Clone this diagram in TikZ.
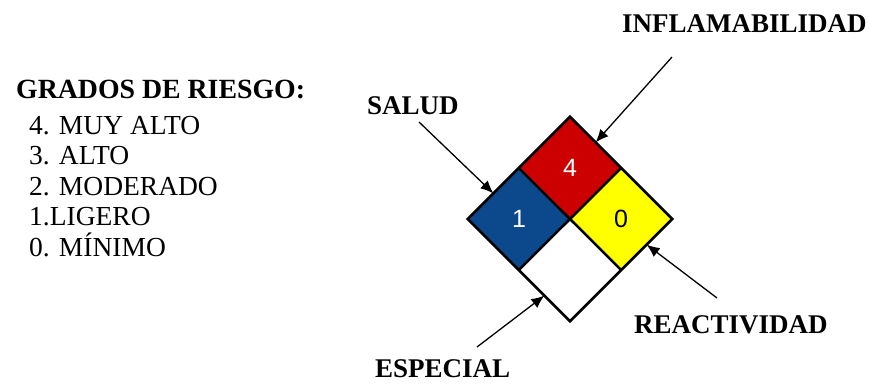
\documentclass[tikz,border=0pt]{standalone}
\usepackage{fontspec}
\setmainfont{Liberation Serif}
\newfontfamily\numfont{Liberation Sans}
\usetikzlibrary{shapes.geometric,arrows.meta}
\definecolor{rojo}{RGB}{204,0,0}
\definecolor{azul}{RGB}{12,72,140}
\definecolor{amarillo}{RGB}{255,255,0}

\begin{document}
\begin{tikzpicture}[x=1pt,y=-1pt,
  rombo/.style={shape=diamond,minimum width=102pt,minimum height=102pt,inner sep=0pt,font=\numfont\fontsize{25}{25}\selectfont},
  rotulo/.style={anchor=base west,inner sep=0pt,font=\bfseries\fontsize{27}{27}\selectfont},
  grado/.style={anchor=base west,inner sep=0pt,font=\fontsize{27.5}{27.5}\selectfont},
  flecha/.style={line width=1.3pt,-{Latex[length=13pt,width=11pt]}}]

\useasboundingbox (0,0) rectangle (870,383);

% leyenda
\node[rotulo,font=\bfseries\fontsize{27.8}{27.8}\selectfont] (grados) at (16,98.3) {GRADOS DE RIESGO:};
\foreach \txt [count=\i] in {4. MUY ALTO,3. ALTO,2. MODERADO,1.LIGERO,0. MÍNIMO}
  \node[grado] (g\i) at (29,{134+30.5*(\i-1)}) {\txt};

% rombo
\node[rombo,fill=rojo,text=white] (rojo) at (570,168) {4};
\node[rombo,fill=azul,text=white] (azul) at (519,219) {1};
\node[rombo,fill=amarillo] (amarillo) at (621,219) {0};
\node[rombo,fill=white] (blanco) at (570,270) {};

\draw[black, line width=2.7pt, line join=miter] (rojo.north) -- (amarillo.east) -- (blanco.south) -- (azul.west) -- cycle;
\draw[black, line width=2.5pt] (rojo.west) -- (blanco.east);
\draw[black, line width=2.5pt] (rojo.east) -- (blanco.west);

% rotulos
\node[rotulo] (inflam) at (622,32) {INFLAMABILIDAD};
\node[rotulo] (salud) at (367,114) {SALUD};
\node[rotulo] (reactiv) at (634,333) {REACTIVIDAD};
\node[rotulo] (especial) at (375,377) {ESPECIAL};

\coordinate (cInflam) at (672,57);
\coordinate (cSalud) at (419,122);
\coordinate (cReactiv) at (717,298);
\coordinate (cEspecial) at (477,347);

\draw[flecha] (cInflam) -- (rojo.north east);
\draw[flecha] (cSalud) -- (azul.north west);
\draw[flecha] (cReactiv) -- (amarillo.south east);
\draw[flecha] (cEspecial) -- (blanco.south west);

\end{tikzpicture}
\end{document}
